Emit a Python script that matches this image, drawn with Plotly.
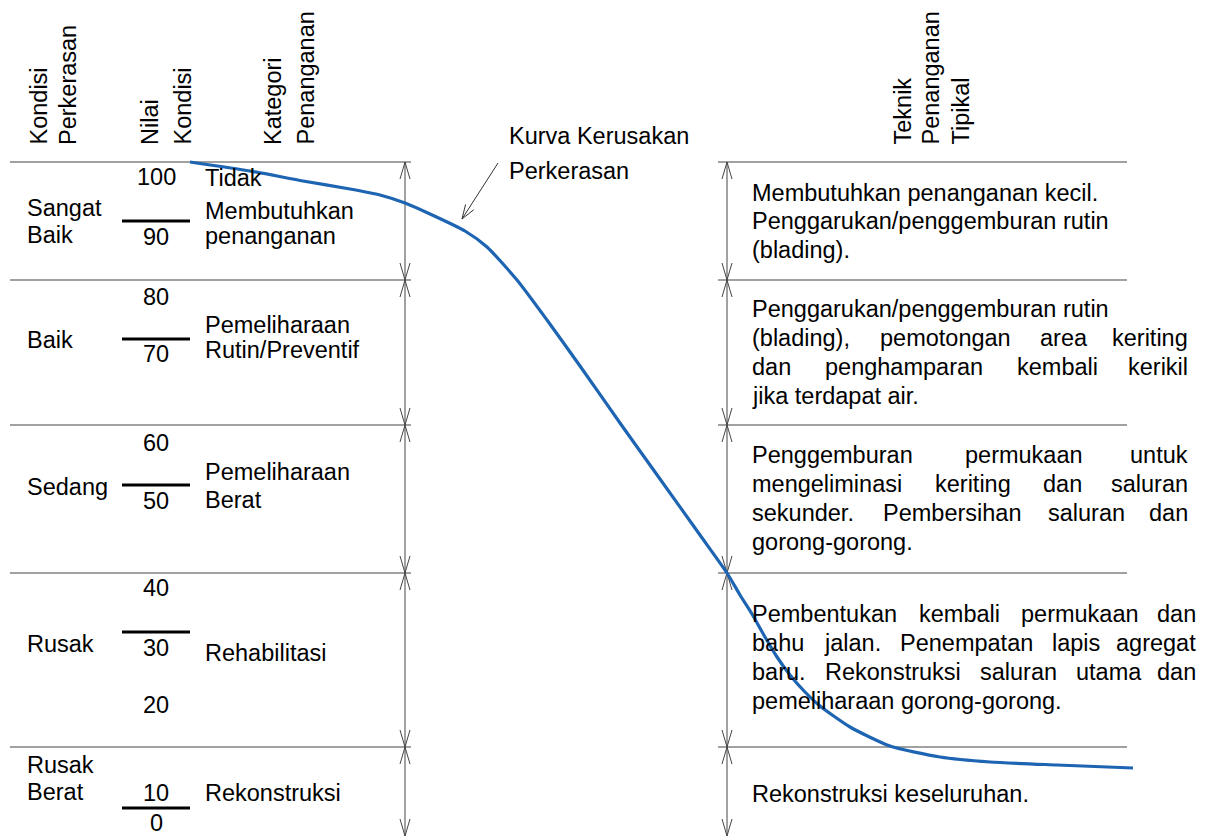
import math
import plotly.graph_objects as go

W, H = 1211, 837
PAGE_MARGIN = 8  # margin bawaan <body> halaman html
FONT = "Liberation Sans, Arial, sans-serif"
FS = 23.5
LINE_GREY = "#454545"
CURVE_BLUE = "#1d64b2"

# batas baris (piksel dari atas)
ROW_Y = [162, 280, 425, 573, 747]
BOTTOM_Y = 836
LEFT_LINE_X = [10, 411]
RIGHT_LINE_X = [718, 1127]
DIM_X = [405, 727]

# judul kolom (teks tegak)
HEADERS = [("Kondisi", 38), ("Perkerasan", 68), ("Nilai", 150), ("Kondisi", 182),
           ("Kategori", 273), ("Penanganan", 305),
           ("Teknik", 902), ("Penanganan", 930), ("Tipikal", 960)]
HEADER_BASE_Y = 147

KONDISI = ["Sangat", "Baik", "Baik", "Sedang", "Rusak", "Rusak", "Berat"]
KONDISI_Y = [208, 235, 340, 487, 644, 765, 792]

NILAI = [100, 90, 80, 70, 60, 50, 40, 30, 20, 10, 0]
NILAI_Y = [177, 237, 297, 354, 443, 501, 588, 648, 705, 793, 823]
BAR_Y = [221, 339, 485, 632, 808]

KATEGORI = ["Tidak", "Membutuhkan", "penanganan", "Pemeliharaan", "Rutin/Preventif",
            "Pemeliharaan", "Berat", "Rehabilitasi", "Rekonstruksi"]
KATEGORI_Y = [178, 211, 236, 325, 350, 472, 500, 653, 793]

# teks teknik penanganan: (baris, y, batas kanan rata kanan-kiri atau None)
TEKNIK = [
    ("Membutuhkan penanganan kecil.", 193, None),
    ("Penggarukan/penggemburan rutin", 221, None),
    ("(blading).", 250, None),
    ("Penggarukan/penggemburan rutin", 309, None),
    ("(blading), pemotongan area keriting", 338, 1190),
    ("dan penghamparan kembali kerikil", 367, 1190),
    ("jika terdapat air.", 396, None),
    ("Penggemburan permukaan untuk", 455, 1190),
    ("mengeliminasi keriting dan saluran", 484, 1190),
    ("sekunder. Pembersihan saluran dan", 513, 1190),
    ("gorong-gorong.", 542, None),
    ("Pembentukan kembali permukaan dan", 614, 1198),
    ("bahu jalan. Penempatan lapis agregat", 643, 1198),
    ("baru. Rekonstruksi saluran utama dan", 672, 1198),
    ("pemeliharaan gorong-gorong.", 701, None),
    ("Rekonstruksi keseluruhan.", 794, None),
]
TEKNIK_X = 750

# kurva kerusakan perkerasan
CURVE_X = [190, 250, 303, 350, 380, 405, 430, 465, 487, 517, 547, 580, 620, 660, 700, 727,
           740, 752, 765, 777, 790, 805, 820, 850, 890, 940, 990, 1057, 1133]
CURVE_Y = [162, 171, 181, 189, 195, 203, 214, 231, 247, 280, 320, 366, 423, 479, 535, 573,
           595, 614, 637, 657, 675, 692, 706, 727, 746, 757, 762, 765, 768]

KURVA_LABEL = ["Kurva Kerusakan", "Perkerasan"]
KURVA_LABEL_Y = [136, 171]
KURVA_LABEL_X = 507
POINTER = [(498, 163), (462, 219)]

# lebar huruf Arial (per 1000 em) untuk perataan kanan-kiri
CHAR_W = dict(zip("abcdefghijklmnopqrstuvwxyz",
                  [556, 556, 500, 556, 556, 278, 556, 556, 222, 222, 500, 222, 833,
                   556, 556, 556, 556, 333, 500, 278, 556, 500, 722, 500, 500, 500]))
CHAR_W.update({"P": 667, "R": 722, "M": 833, "K": 667, "T": 611, "B": 667, "S": 667,
               " ": 278, "(": 333, ")": 333, ",": 278, ".": 278, "/": 278, "-": 333})


def text_width(s):
    return sum(CHAR_W.get(c, 556) for c in s) * FS / 1000.0


def add_lines(fig, segments, color, width):
    xs, ys = [], []
    for (x0, y0), (x1, y1) in segments:
        xs += [x0, x1, None]
        ys += [y0, y1, None]
    fig.add_trace(go.Scatter(x=xs, y=ys, mode="lines", line=dict(color=color, width=width),
                             hoverinfo="skip", showlegend=False))


def label(fig, text, x, y, xanchor="left", angle=0, yanchor="middle"):
    fig.add_annotation(x=x, y=y, text=text, showarrow=False, xanchor=xanchor, yanchor=yanchor,
                       textangle=angle, font=dict(family=FONT, size=FS, color="black"))


fig = go.Figure()

# garis horizontal batas baris
segs = []
for y in ROW_Y:
    segs.append(((LEFT_LINE_X[0], y), (LEFT_LINE_X[1], y)))
    segs.append(((RIGHT_LINE_X[0], y), (RIGHT_LINE_X[1], y)))
add_lines(fig, segs, LINE_GREY, 1.2)

# garis ukur vertikal dengan kepala panah terbuka
segs = []
ah_w, ah_l = 5, 17
for x in DIM_X:
    segs.append(((x, ROW_Y[0]), (x, BOTTOM_Y)))
    ends = ROW_Y + [BOTTOM_Y]
    for i, y in enumerate(ends):
        if y != BOTTOM_Y:
            segs += [((x - ah_w, y + ah_l), (x, y)), ((x, y), (x + ah_w, y + ah_l))]
        if i > 0:
            segs += [((x - ah_w, y - ah_l), (x, y)), ((x, y), (x + ah_w, y - ah_l))]
add_lines(fig, segs, LINE_GREY, 1)

# garis pendek kolom nilai
add_lines(fig, [((122, y), (190, y)) for y in BAR_Y], "black", 3)

# panah penunjuk kurva
(sx, sy), (tx, ty) = POINTER
ang = math.atan2(sy - ty, sx - tx)
segs = [((sx, sy), (tx, ty))]
for d in (-0.33, 0.33):
    segs.append(((tx, ty), (tx + 15 * math.cos(ang + d), ty + 15 * math.sin(ang + d))))
add_lines(fig, segs, "#333333", 1)

# kurva kerusakan
fig.add_trace(go.Scatter(x=CURVE_X, y=CURVE_Y, mode="lines",
                         line=dict(color=CURVE_BLUE, width=3.2, shape="spline", smoothing=0.6),
                         hoverinfo="skip", showlegend=False))

# judul kolom
for text, x in HEADERS:
    label(fig, text, x, HEADER_BASE_Y, xanchor="center", angle=-90, yanchor="bottom")

for text, y in zip(KONDISI, KONDISI_Y):
    label(fig, text, 25, y)
for v, y in zip(NILAI, NILAI_Y):
    label(fig, str(v), 156, y, xanchor="center")
for text, y in zip(KATEGORI, KATEGORI_Y):
    label(fig, text, 203, y)

for text, y in zip(KURVA_LABEL, KURVA_LABEL_Y):
    label(fig, text, KURVA_LABEL_X, y)

# teks teknik penanganan, sebagian rata kanan-kiri
for line, y, right in TEKNIK:
    words = line.split(" ")
    if right is None or len(words) < 2:
        label(fig, line, TEKNIK_X, y)
        continue
    widths = [text_width(w) for w in words]
    gap = (right - TEKNIK_X - sum(widths)) / (len(words) - 1)
    x = TEKNIK_X
    for i, (w, wd) in enumerate(zip(words, widths)):
        if i == len(words) - 1:
            label(fig, w, right, y, xanchor="right")
        else:
            label(fig, w, x, y)
        x += wd + gap

# gambar digeser oleh margin halaman agar koordinat sama dengan piksel layar
fig.update_layout(
    width=W - PAGE_MARGIN, height=H - PAGE_MARGIN, margin=dict(l=0, r=0, t=0, b=0),
    paper_bgcolor="white", plot_bgcolor="white", showlegend=False,
    xaxis=dict(range=[PAGE_MARGIN, W], visible=False, fixedrange=True),
    yaxis=dict(range=[H, PAGE_MARGIN], visible=False, fixedrange=True),
)

fig.write_html("out.html")
